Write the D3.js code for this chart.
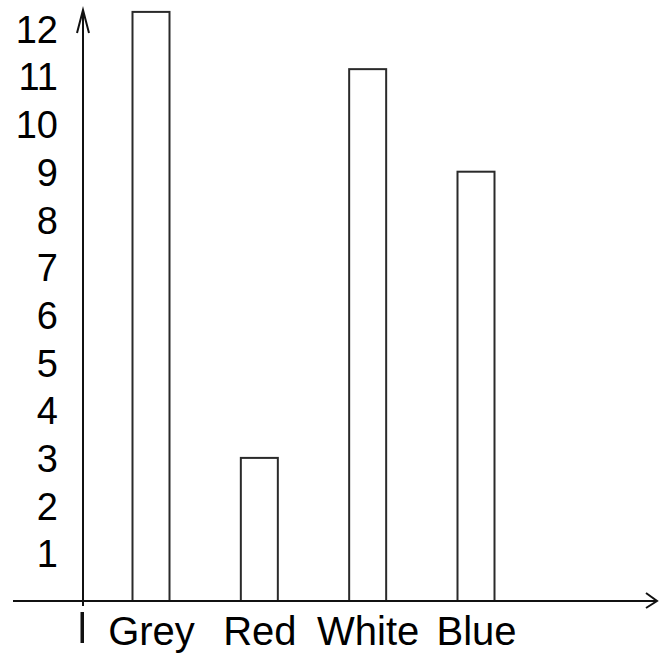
<!DOCTYPE html>
<html>
<head>
<meta charset="utf-8">
<script src="https://cdn.jsdelivr.net/npm/d3@7"></script>
<style>
  html, body { margin: 0; padding: 0; background: #fff; }
  svg { display: block; }
  text { font-family: "Liberation Sans", Arial, sans-serif; fill: #000; }
</style>
</head>
<body>
<script>
const categories = ["Grey", "Red", "White", "Blue"];
const values = [12.35, 3, 11.15, 9];
const yTicks = [1, 2, 3, 4, 5, 6, 7, 8, 9, 10, 11, 12];

const W = 659, H = 654;
const axisX = 83, axisY = 601;

const svg = d3.select("body").append("svg").attr("width", W).attr("height", H);

const x = d3.scalePoint().domain(categories).range([151, 476]);
const y = d3.scaleLinear().domain([0, 12]).range([axisY, axisY - 12 * 47.7]);
const barW = 37;

// bars
svg.append("g").selectAll("rect").data(categories).join("rect")
  .attr("x", d => x(d) - barW / 2)
  .attr("y", (d, i) => y(values[i]))
  .attr("width", barW)
  .attr("height", (d, i) => y(0) - y(values[i]))
  .attr("fill", "#fff")
  .attr("stroke", "#2a2a2a")
  .attr("stroke-width", 2);

// y axis labels
const yAxis = d3.axisLeft(y).tickValues(yTicks).tickSize(0).tickPadding(25).tickFormat(d3.format("d"));
const gy = svg.append("g").attr("transform", `translate(${axisX},0)`).call(yAxis);
gy.select(".domain").remove();
gy.selectAll("text").style("font-size", "38px").attr("font-family", null).attr("dy", "0.36em");

// x axis labels
const xAxis = d3.axisBottom(x).tickSize(0);
const gx = svg.append("g").attr("transform", `translate(0,${axisY})`).call(xAxis);
gx.select(".domain").remove();
gx.selectAll("text").style("font-size", "40px").attr("font-family", null).attr("y", 44).attr("dy", 0);

// axis lines
const ax = svg.append("g").attr("stroke", "#111").attr("stroke-width", 2).attr("fill", "none");
ax.append("line").attr("x1", 13).attr("y1", axisY).attr("x2", 657).attr("y2", axisY);
ax.append("line").attr("x1", axisX).attr("y1", 606).attr("x2", axisX).attr("y2", 10);
ax.append("polyline").attr("points", `${axisX - 6},33 ${axisX},10 ${axisX + 6},33`);
ax.append("polyline").attr("points", `646,593 657,${axisY} 646,608`);
// small mark below y axis
svg.append("rect").attr("x", 80.5).attr("y", 612).attr("width", 3.5).attr("height", 31).attr("fill", "#111");
</script>
</body>
</html>
